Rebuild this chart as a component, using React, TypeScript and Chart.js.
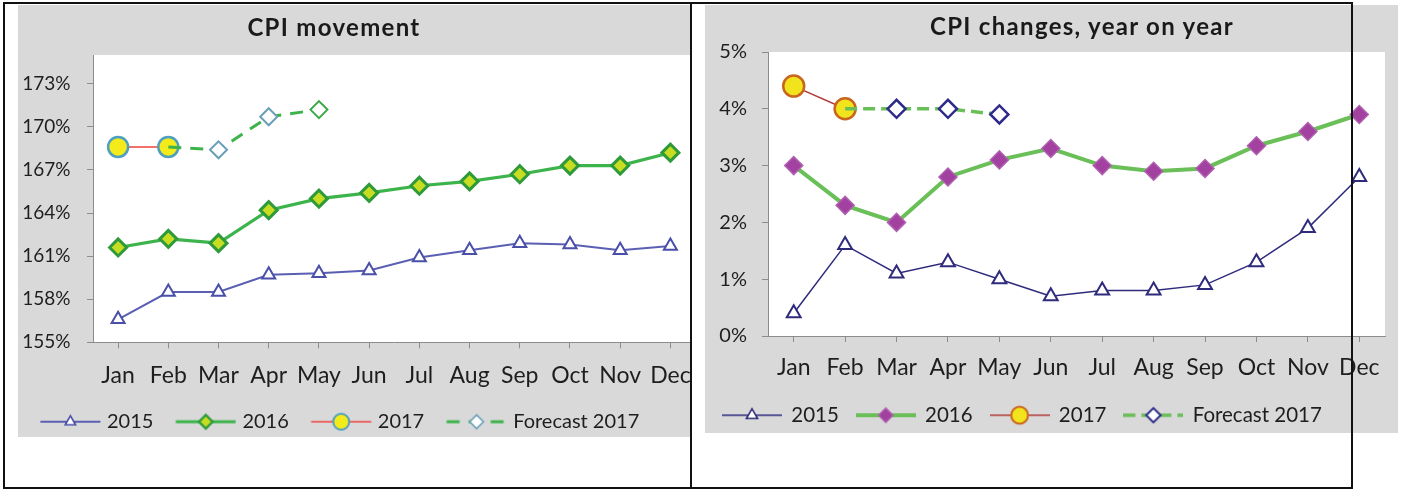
import React, { useEffect, useRef } from 'react';
import { Chart, registerables } from 'chart.js';

Chart.register(...registerables);

// ---------- data ----------
const months = ['Jan', 'Feb', 'Mar', 'Apr', 'May', 'Jun', 'Jul', 'Aug', 'Sep', 'Oct', 'Nov', 'Dec'];
const seriesNames = ['2015', '2016', '2017', 'Forecast 2017'];

const cpiTitle = 'CPI movement';
const cpiTicks = [155, 158, 161, 164, 167, 170, 173];
const cpi2015 = [156.6, 158.5, 158.5, 159.7, 159.8, 160.0, 160.9, 161.4, 161.9, 161.8, 161.4, 161.7];
const cpi2016 = [161.6, 162.2, 161.9, 164.2, 165.0, 165.4, 165.9, 166.2, 166.7, 167.3, 167.3, 168.2];
const cpi2017 = [168.6, 168.6, null, null, null, null, null, null, null, null, null, null];
const cpiForecast2017 = [null, 168.6, 168.4, 170.7, 171.2, null, null, null, null, null, null, null];

const yoyTitle = 'CPI changes, year on year';
const yoyTicks = [0, 1, 2, 3, 4, 5];
const yoy2015 = [0.4, 1.6, 1.1, 1.3, 1.0, 0.7, 0.8, 0.8, 0.9, 1.3, 1.9, 2.8];
const yoy2016 = [3.0, 2.3, 2.0, 2.8, 3.1, 3.3, 3.0, 2.9, 2.95, 3.35, 3.6, 3.9];
const yoy2017 = [4.4, 4.0, null, null, null, null, null, null, null, null, null, null];
const yoyForecast2017 = [null, 4.0, 4.0, 4.0, 3.9, null, null, null, null, null, null, null];

// ---------- styles ----------
type Marker = { shape: 'triangle' | 'diamond' | 'circle'; r: number; fill: string; stroke: string; sw: number };
type Look = { line: string; lw: number; dash: number[]; marker: Marker };

const FONT = 'Lato, "Noto Sans", sans-serif';
const TEXT = '#1e1e1e';
const AXIS = '#8c8c8c';

const leftLooks: Look[] = [
  { line: '#5b5fb3', lw: 2, dash: [], marker: { shape: 'triangle', r: 7.5, fill: '#ffffff', stroke: '#4a4fa8', sw: 2 } },
  { line: '#3cb44b', lw: 3.2, dash: [], marker: { shape: 'diamond', r: 8.5, fill: '#c6dd22', stroke: '#2e9a3a', sw: 3 } },
  { line: '#f0403c', lw: 1.5, dash: [], marker: { shape: 'circle', r: 10, fill: '#f3ec1a', stroke: '#4f9fc0', sw: 2.5 } },
  { line: '#3cb44b', lw: 3, dash: [13, 9], marker: { shape: 'diamond', r: 8.5, fill: '#ffffff', stroke: '#6a9fb8', sw: 2 } },
];

const rightLooks: Look[] = [
  { line: '#2e2a7c', lw: 1.5, dash: [], marker: { shape: 'triangle', r: 8, fill: '#ffffff', stroke: '#2e2a7c', sw: 2 } },
  { line: '#6abf59', lw: 4, dash: [], marker: { shape: 'diamond', r: 9, fill: '#a2419f', stroke: '#b060b0', sw: 1.5 } },
  { line: '#b03a3a', lw: 1.5, dash: [], marker: { shape: 'circle', r: 10.5, fill: '#f2e41c', stroke: '#c8651e', sw: 2.5 } },
  { line: '#6abf59', lw: 3.5, dash: [12, 6], marker: { shape: 'diamond', r: 9, fill: '#ffffff', stroke: '#2e2a8a', sw: 2.5 } },
];

const LEGEND_MARKER_SCALE = 0.8;

function drawMarker(ctx: CanvasRenderingContext2D, m: Marker, x: number, y: number, scale = 1) {
  const r = m.r * scale;
  ctx.save();
  ctx.beginPath();
  if (m.shape === 'circle') {
    ctx.arc(x, y, r, 0, Math.PI * 2);
  } else if (m.shape === 'diamond') {
    ctx.moveTo(x - r, y);
    ctx.lineTo(x, y - r);
    ctx.lineTo(x + r, y);
    ctx.lineTo(x, y + r);
    ctx.closePath();
  } else {
    for (let i = 0; i < 3; i++) {
      const a = (i * 2 * Math.PI) / 3;
      const px = x + Math.sin(a) * r;
      const py = y - Math.cos(a) * r;
      if (i === 0) ctx.moveTo(px, py);
      else ctx.lineTo(px, py);
    }
    ctx.closePath();
  }
  ctx.fillStyle = m.fill;
  ctx.fill();
  ctx.setLineDash([]);
  ctx.lineWidth = Math.max(1.5, m.sw * scale);
  ctx.strokeStyle = m.stroke;
  ctx.stroke();
  ctx.restore();
}

// swatch: canvas of width imgW, visible line of length lineW starting at lineX
function makeSwatch(look: Look, imgW: number, lineX: number, lineW = 60, h = 26): HTMLCanvasElement {
  const c = document.createElement('canvas');
  c.width = imgW;
  c.height = h;
  const ctx = c.getContext('2d') as CanvasRenderingContext2D;
  ctx.strokeStyle = look.line;
  ctx.lineWidth = look.lw;
  ctx.setLineDash(look.dash);
  ctx.beginPath();
  ctx.moveTo(lineX, h / 2);
  ctx.lineTo(lineX + lineW, h / 2);
  ctx.stroke();
  drawMarker(ctx, look.marker, lineX + lineW / 2, h / 2, LEGEND_MARKER_SCALE);
  return c;
}

function dataset(label: string, data: (number | null)[], look: Look, order: number, extra: any = {}) {
  return {
    label,
    data,
    order,
    borderColor: look.line,
    borderWidth: look.lw,
    borderDash: look.dash,
    pointStyle: look.marker.shape === 'diamond' ? 'rectRot' : look.marker.shape,
    pointRadius: look.marker.r,
    pointBackgroundColor: look.marker.fill,
    pointBorderColor: look.marker.stroke,
    pointBorderWidth: look.marker.sw,
    tension: 0,
    fill: false,
    spanGaps: false,
    ...extra,
  };
}

const plotBackground = {
  id: 'plotBackground',
  beforeDraw(chart: any) {
    const { ctx, chartArea: a } = chart;
    ctx.save();
    ctx.fillStyle = '#ffffff';
    ctx.fillRect(a.left, a.top, a.right - a.left, a.bottom - a.top);
    ctx.restore();
  },
};

type Layout = {
  padTop: number;
  padRight: number;
  yWidth: number;
  yPad: number;
  yFont: number;
  xHeight: number;
  xPad: number;
  xFont: number;
  legendH: number;
  legendPad: number;
  legendBox: number;
  legendImgW: number;
  legendLineX: number;
  legendFont: number;
};

function buildConfig(
  datasets: any[],
  looks: Look[],
  yMin: number,
  yMax: number,
  yTicks: number[],
  L: Layout
) {
  const swatches = looks.map((l) => makeSwatch(l, L.legendImgW, L.legendLineX));
  return {
    type: 'line',
    data: { labels: months, datasets },
    plugins: [plotBackground],
    options: {
      animation: false,
      responsive: false,
      devicePixelRatio: 1,
      events: [],
      layout: { padding: { top: L.padTop, right: L.padRight, left: 0, bottom: 0 } },
      plugins: {
        title: { display: false },
        tooltip: { enabled: false },
        legend: {
          position: 'bottom',
          align: 'start',
          maxHeight: L.legendH,
          labels: {
            usePointStyle: true,
            pointStyleWidth: L.legendBox,
            padding: L.legendPad,
            color: TEXT,
            font: { family: FONT, size: L.legendFont },
            generateLabels: () =>
              seriesNames.map((name, i) => ({
                text: name,
                pointStyle: swatches[i],
                fillStyle: 'rgba(0,0,0,0)',
                strokeStyle: 'rgba(0,0,0,0)',
                lineWidth: 0,
                hidden: false,
                datasetIndex: i,
                fontColor: TEXT,
              })),
          },
        },
      },
      scales: {
        x: {
          type: 'category',
          offset: true,
          afterFit: (s: any) => {
            s.height = L.xHeight;
          },
          grid: {
            display: true,
            offset: false,
            drawOnChartArea: false,
            drawTicks: true,
            tickLength: 6,
            color: AXIS,
          },
          border: { display: true, color: AXIS, width: 1 },
          ticks: {
            autoSkip: false,
            maxRotation: 0,
            padding: L.xPad,
            color: TEXT,
            font: { family: FONT, size: L.xFont },
          },
        },
        y: {
          type: 'linear',
          min: yMin,
          max: yMax,
          afterFit: (s: any) => {
            s.width = L.yWidth;
          },
          afterBuildTicks: (s: any) => {
            s.ticks = yTicks.map((v) => ({ value: v }));
          },
          grid: {
            display: true,
            drawOnChartArea: false,
            drawTicks: true,
            tickLength: 6,
            color: AXIS,
          },
          border: { display: true, color: AXIS, width: 1 },
          ticks: {
            padding: L.yPad,
            color: TEXT,
            font: { family: FONT, size: L.yFont },
            callback: (v: any) => `${v}%`,
          },
        },
      },
    },
  };
}

function buildLeft() {
  const L = leftLooks;
  const datasets = [
    dataset(seriesNames[0], cpi2015, L[0], 3),
    dataset(seriesNames[1], cpi2016, L[1], 2),
    dataset(seriesNames[2], cpi2017, L[2], 1),
    dataset(seriesNames[3], cpiForecast2017, L[3], 0, {
      pointRadius: [0, 0, 8.5, 8.5, 8.5, 0, 0, 0, 0, 0, 0, 0],
      pointBorderColor: ['#6a9fb8', '#6a9fb8', '#6a9fb8', '#6a9fb8', '#3aa845', '#6a9fb8', '#6a9fb8', '#6a9fb8', '#6a9fb8', '#6a9fb8', '#6a9fb8', '#6a9fb8'],
    }),
  ];
  return buildConfig(datasets, L, 155, 175, cpiTicks, {
    padTop: 50,
    padRight: 9,
    yWidth: 75,
    yPad: 16.5,
    yFont: 19,
    xHeight: 50.4,
    xPad: 13,
    xFont: 23,
    legendH: 44.3,
    legendPad: 19,
    legendBox: 60,
    legendImgW: 68,
    legendLineX: 7.4,
    legendFont: 20,
  });
}

function buildRight() {
  const L = rightLooks;
  const datasets = [
    dataset(seriesNames[0], yoy2015, L[0], 3),
    dataset(seriesNames[1], yoy2016, L[1], 2),
    dataset(seriesNames[2], yoy2017, L[2], 1),
    dataset(seriesNames[3], yoyForecast2017, L[3], 0, {
      pointRadius: [0, 0, 9, 9, 9, 0, 0, 0, 0, 0, 0, 0],
    }),
  ];
  return buildConfig(datasets, L, 0, 5, yoyTicks, {
    padTop: 47,
    padRight: 10,
    yWidth: 63,
    yPad: 15,
    yFont: 20,
    xHeight: 51,
    xPad: 12,
    xFont: 23,
    legendH: 46,
    legendPad: 18,
    legendBox: 58,
    legendImgW: 60,
    legendLineX: 0,
    legendFont: 20.5,
  });
}

function ChartCanvas({ make, width, height }: { make: () => any; width: number; height: number }) {
  const ref = useRef<HTMLCanvasElement | null>(null);
  useEffect(() => {
    let chart: Chart | null = null;
    let dead = false;
    const go = () => {
      if (dead || !ref.current) return;
      chart = new Chart(ref.current, make());
    };
    const fonts = (document as any).fonts;
    if (fonts && fonts.load) {
      Promise.all([fonts.load('20px Lato'), fonts.load('bold 20px Lato')]).then(go, go);
    } else {
      go();
    }
    return () => {
      dead = true;
      if (chart) chart.destroy();
    };
  }, []);
  return <canvas ref={ref} width={width} height={height} style={{ display: 'block', width, height }} />;
}

const black = '#111111';

export default function App() {
  const titleStyle: React.CSSProperties = {
    position: 'absolute',
    transform: 'translate(-50%, -50%)',
    whiteSpace: 'nowrap',
    fontFamily: FONT,
    fontWeight: 700,
    fontSize: 24,
    letterSpacing: 1.3,
    color: '#1a1a1a',
    lineHeight: 1,
  };
  return (
    <div style={{ position: 'absolute', left: 0, top: 0, width: 1403, height: 490, background: '#ffffff', overflow: 'hidden' }}>
      {/* left chart */}
      <div style={{ position: 'absolute', left: 18, top: 5, width: 672, height: 432, background: '#d9d9d9', overflow: 'hidden' }}>
        <ChartCanvas make={buildLeft} width={690} height={432} />
      </div>
      <div style={{ ...titleStyle, left: 334, top: 27 }}>{cpiTitle}</div>

      {/* right chart */}
      <div style={{ position: 'absolute', left: 705, top: 5, width: 693, height: 428, background: '#d9d9d9', overflow: 'hidden' }}>
        <ChartCanvas make={buildRight} width={693} height={428} />
      </div>
      <div style={{ ...titleStyle, left: 1082, top: 26 }}>{yoyTitle}</div>

      {/* table borders */}
      <div style={{ position: 'absolute', left: 3, top: 2, width: 1350, height: 2, background: black }} />
      <div style={{ position: 'absolute', left: 3, top: 487, width: 1350, height: 2, background: black }} />
      <div style={{ position: 'absolute', left: 3, top: 2, width: 2, height: 487, background: black }} />
      <div style={{ position: 'absolute', left: 690, top: 2, width: 2, height: 487, background: black }} />
      <div style={{ position: 'absolute', left: 1351, top: 2, width: 2, height: 487, background: black }} />
    </div>
  );
}
